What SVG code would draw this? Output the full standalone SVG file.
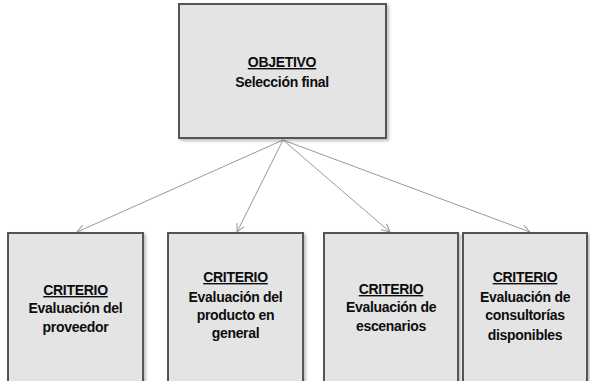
<svg xmlns="http://www.w3.org/2000/svg" width="590" height="381" viewBox="0 0 590 381">
<style>
.box{fill:#e4e4e4;stroke:#555;stroke-width:2}
.t{font-family:"Liberation Sans",Arial,sans-serif;font-weight:bold;font-size:14px;letter-spacing:-0.3px;fill:#0d0d0d;text-anchor:middle}
.u{text-decoration:underline}
.c{stroke:#9a9a9a;stroke-width:1;fill:none;marker-end:url(#a)}
</style>
<defs>
<marker id="a" markerWidth="10" markerHeight="10" refX="9" refY="5" orient="auto" markerUnits="userSpaceOnUse">
<path d="M1,1 L9,5 L1,9" fill="none" stroke="#9a9a9a" stroke-width="1"/>
</marker>
<filter id="s" x="-10%" y="-10%" width="130%" height="130%">
<feDropShadow dx="2" dy="2" stdDeviation="1.5" flood-color="#000" flood-opacity="0.25"/>
</filter>
</defs>
<g id="connectors">
<line class="c" x1="283" y1="140" x2="77" y2="232"/>
<line class="c" x1="283" y1="140" x2="237" y2="232"/>
<line class="c" x1="283" y1="140" x2="390" y2="232"/>
<line class="c" x1="283" y1="140" x2="530" y2="232"/>
</g>
<g id="objetivo">
<rect class="box" x="179" y="4" width="207" height="134" filter="url(#s)"/>
<text class="t u" x="282" y="67">OBJETIVO</text>
<text class="t" x="282" y="87">Selección final</text>
</g>
<g id="criterio1">
<rect class="box" x="8" y="233" width="135" height="160" filter="url(#s)"/>
<text class="t u" x="75.5" y="295">CRITERIO</text>
<text class="t" x="75.5" y="313">Evaluación del</text>
<text class="t" x="75.5" y="332">proveedor</text>
</g>
<g id="criterio2">
<rect class="box" x="168" y="233" width="135" height="160" filter="url(#s)"/>
<text class="t u" x="235.5" y="282">CRITERIO</text>
<text class="t" x="235.5" y="302">Evaluación del</text>
<text class="t" x="235.5" y="320">producto en</text>
<text class="t" x="235.5" y="338">general</text>
</g>
<g id="criterio3">
<rect class="box" x="324" y="233" width="134" height="160" filter="url(#s)"/>
<text class="t u" x="391" y="294">CRITERIO</text>
<text class="t" x="391" y="312">Evaluación de</text>
<text class="t" x="391" y="331">escenarios</text>
</g>
<g id="criterio4">
<rect class="box" x="463" y="233" width="124" height="160" filter="url(#s)"/>
<text class="t u" x="525" y="282">CRITERIO</text>
<text class="t" x="525" y="302">Evaluación de</text>
<text class="t" x="525" y="320">consultorías</text>
<text class="t" x="525" y="340">disponibles</text>
</g>
</svg>
